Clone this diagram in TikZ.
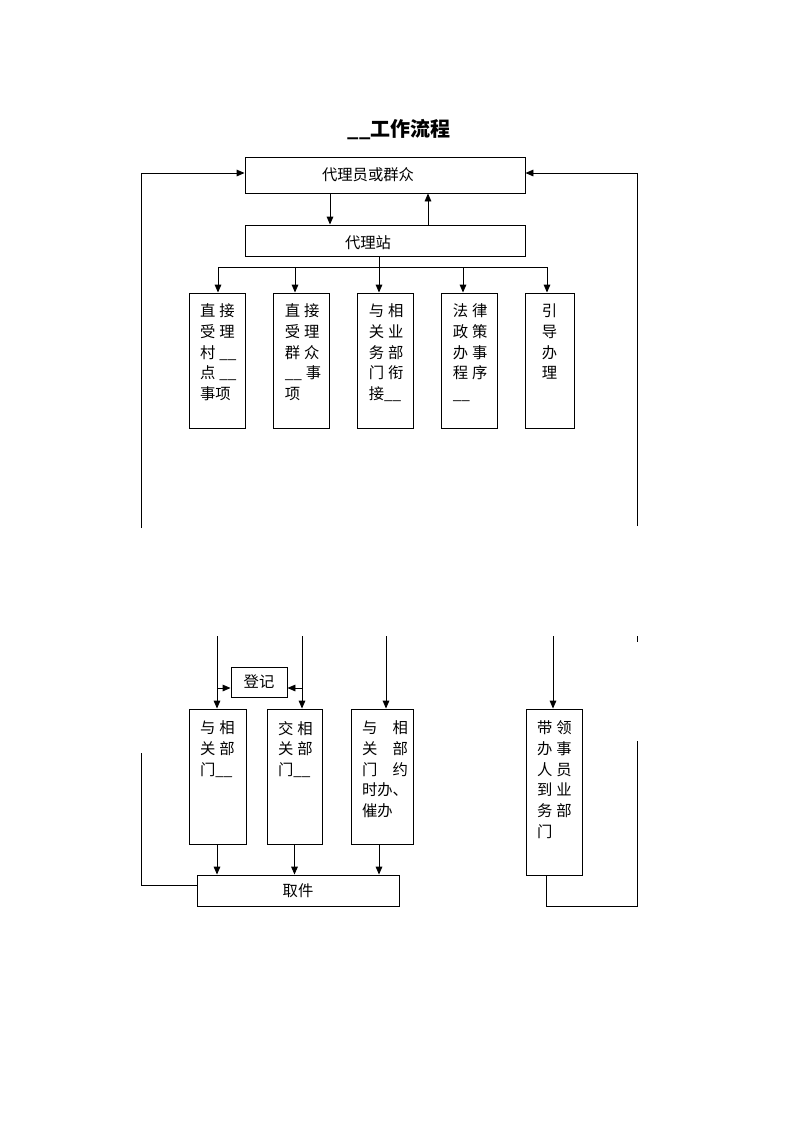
\documentclass[tikz,border=0pt]{standalone}
\usepackage{fontspec}
\usepackage{tikz}
\usetikzlibrary{arrows.meta}
\newfontfamily\cjk{Noto Sans CJK SC}
\newcommand\cgap{\hspace{3pt}}

\begin{document}
\begin{tikzpicture}[x=0.75pt,y=-0.75pt,line width=0.7pt,
  >={Triangle[length=6pt,width=5pt]},
  box/.style={draw,inner sep=0pt},
  colbox/.style={box,minimum width=41.5pt,minimum height=101.25pt},
  txt/.style={inner sep=0pt,font=\cjk\fontsize{11.5}{15.5}\selectfont,align=left,anchor=north west}]
\useasboundingbox (0,0) rectangle (793,1122);
\node[inner sep=0pt,anchor=base,font=\cjk\bfseries\fontsize{15}{18}\selectfont] (title) at (399,136) {\_\_工作流程};
% top boxes
\node[box,minimum width=210pt,minimum height=27pt] (top) at (385,175) {};
\node[txt,anchor=base] (toptxt) at (368,180) {代理员或群众};
\node[box,minimum width=210pt,minimum height=23.25pt] (sta) at (385,240.5) {};
\node[txt,anchor=base] (statxt) at (368,248) {代理站};
% five columns
\node[colbox,minimum width=42pt] (c1) at (217,360.5) {};
\node[colbox] (c2) at (301.5,360.5) {};
\node[colbox] (c3) at (385.5,360.5) {};
\node[colbox] (c4) at (469.5,360.5) {};
\node[colbox,minimum width=36.75pt] (c5) at (549.5,360.5) {};
\node[txt] (t1) at ([shift={(11,11)}]c1.north west) {直\cgap 接\\受\cgap 理\\村\cgap\_\_\\点\cgap\_\_\\事项};
\node[txt] (t2) at ([shift={(11,11)}]c2.north west) {直\cgap 接\\受\cgap 理\\群\cgap 众\\\_\_\cgap 事\\项};
\node[txt] (t3) at ([shift={(11,11)}]c3.north west) {与\cgap 相\\关\cgap 业\\务\cgap 部\\门\cgap 衔\\接\_\_};
\node[txt] (t4) at ([shift={(11,11)}]c4.north west) {法\cgap 律\\政\cgap 策\\办\cgap 事\\程\cgap 序\\\_\_};
\node[txt,anchor=north,align=center] (t5) at ([shift={(0,11)}]c5.north) {引\\导\\办\\理};
% lower part
\node[box,minimum width=42pt,minimum height=22.5pt] (reg) at (259,682) {};
\node[txt,anchor=center] (regtxt) at (259,682) {登记};
\node[colbox,minimum width=42.75pt] (d1) at (217.5,776.5) {};
\node[colbox,minimum width=41.25pt] (d2) at (294.5,776.5) {};
\node[colbox,minimum width=46.5pt] (d3) at (382,776.5) {};
\node[colbox,minimum width=42pt,minimum height=124.5pt] (d4) at (554,792) {};
\node[txt] (s1) at ([shift={(11,12)}]d1.north west) {与\cgap 相\\关\cgap 部\\门\_\_};
\node[txt] (s2) at ([shift={(11,12)}]d2.north west) {交\cgap 相\\关\cgap 部\\门\_\_};
\node[txt] (s3) at ([shift={(11,12)}]d3.north west) {与　相\\关　部\\门　约\\时办、\\催办};
\node[txt] (s4) at ([shift={(11,12)}]d4.north west) {带\cgap 领\\办\cgap 事\\人\cgap 员\\到\cgap 业\\务\cgap 部\\门};
\node[box,minimum width=151.5pt,minimum height=23.25pt] (get) at (298,890.5) {};
\node[txt,anchor=center] (gettxt) at (298,890.5) {取件};
% connectors, upper half
\coordinate (lb1) at (141,528);
\coordinate (rb1) at (637,526);
\draw[->] (lb1) |- ([yshift=1.5pt]top.west);
\draw[->] (rb1) |- ([yshift=1.5pt]top.east);
\draw[->] (top.south -| 330,0) -- (sta.north -| 330,0);
\draw[->] (sta.north -| 428,0) -- (top.south -| 428,0);
\coordinate (b1) at (218,267);
\coordinate (b2) at (295,267);
\coordinate (b3) at (379,267);
\coordinate (b4) at (463,267);
\coordinate (b5) at (547,267);
\draw (sta.south -| b3) -- (b3);
\draw (b1) -- (b5);
\draw[->] (b1) -- (b1 |- c1.north);
\draw[->] (b2) -- (b2 |- c2.north);
\draw[->] (b3) -- (b3 |- c3.north);
\draw[->] (b4) -- (b4 |- c4.north);
\draw[->] (b5) -- (b5 |- c5.north);
% connectors, lower half
\coordinate (a1) at (217,636);
\coordinate (a2) at (302,636);
\coordinate (a3) at (386,636);
\coordinate (a4) at (553,636);
\coordinate (rb2) at (637,636);
\draw[->] (a1) -- (a1 |- d1.north);
\draw[->] (a2) -- (a2 |- d2.north);
\draw[->] (a3) -- (a3 |- d3.north);
\draw[->] (a4) -- (a4 |- d4.north);
\draw (rb2) -- ++(0,6);
\coordinate (r1) at (217,688);
\coordinate (r2) at (302,688);
\draw[->] (r1) -- (r1 -| reg.west);
\draw[->] (r2) -- (r2 -| reg.east);
\draw[->] (d1.south -| 217,0) -- (get.north -| 217,0);
\draw[->] (d2.south) -- (d2.south |- get.north);
\draw[->] (d3.south -| 379,0) -- (get.north -| 379,0);
\coordinate (lb2) at (141,753);
\coordinate (rb3) at (637,741);
\draw (lb2) |- ([yshift=4pt]get.west);
\draw (d4.south -| 546,0) -- (get.south -| 546,0) -| (rb3);
\end{tikzpicture}
\end{document}
